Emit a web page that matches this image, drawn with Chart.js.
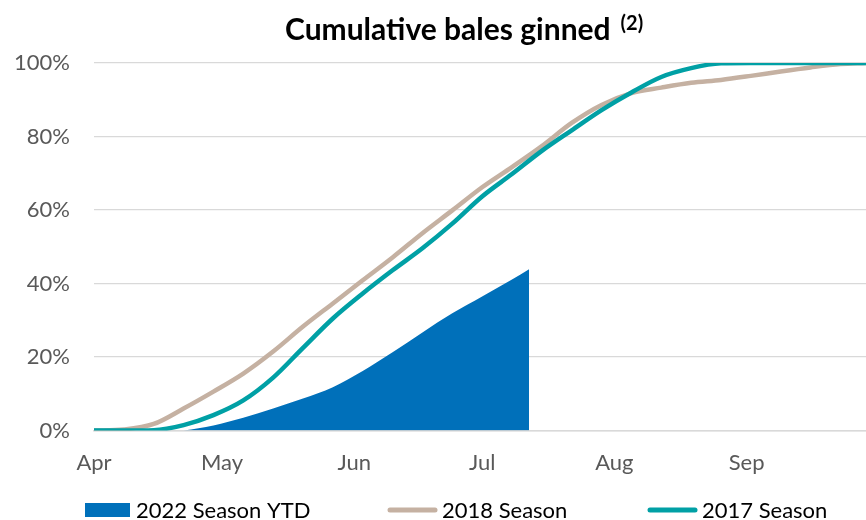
<!DOCTYPE html>
<html>
<head>
<meta charset="utf-8">
<script src="https://cdn.jsdelivr.net/npm/chart.js@4.4.0/dist/chart.umd.min.js"></script>
<style>
  html, body { margin: 0; padding: 0; background: #ffffff; }
  #wrap { width: 866px; height: 520px; position: relative; }
</style>
</head>
<body>
<div id="wrap"><canvas id="chart" width="866" height="520"></canvas></div>
<script>
// Season day index: 0 = 1 April
const monthStarts = [0, 30, 61, 91, 122, 153];
const monthLabels = ['Apr', 'May', 'Jun', 'Jul', 'Aug', 'Sep'];

// Weekly sample days for the full seasons
const seasonDays = [0, 7, 14, 21, 28, 35, 42, 49, 56, 63, 70, 77, 84, 91, 98,
                    105, 112, 119, 126, 133, 140, 147, 154, 161, 168, 175, 181];
// Share of bales ginned (%)
const season2018 = [0, 0.3, 1.8, 6.0, 10.6, 15.5, 21.5, 28.3, 34.6, 40.9, 47.1, 53.7, 59.9, 66.2, 71.7,
                    77.4, 83.7, 88.6, 91.8, 93.3, 94.6, 95.4, 96.5, 97.7, 98.8, 99.7, 100];
const season2017 = [0, 0, 0.1, 1.5, 4.2, 8.2, 14.4, 22.5, 30.5, 37.3, 43.6, 49.6, 56.3, 63.7, 69.8,
                    76.1, 81.7, 87.2, 92.0, 96.2, 98.6, 99.9, 100, 100, 100, 100, 100];

// Current season, year to date
const ytdDays = [21, 28, 35, 42, 49, 56, 63, 70, 77, 84, 91, 98, 102];
const season2022 = [0, 1.4, 3.5, 6.0, 8.7, 11.8, 16.2, 21.3, 26.7, 31.9, 36.5, 41.1, 43.9];

const yTicks = [0, 20, 40, 60, 80, 100];

const toPoints = (days, vals) => days.map((d, i) => ({ x: d, y: vals[i] }));

const FONT = 'Lato, "Open Sans", sans-serif';
const BLUE = '#0070BA';
const TAN = '#C5B1A2';
const TEAL = '#00A0A5';

// Title with superscript note marker
const titlePlugin = {
  id: 'noteTitle',
  afterDraw(chart) {
    const ctx = chart.ctx;
    const main = 'Cumulative bales ginned';
    const sup = '(2)';
    ctx.save();
    ctx.fillStyle = '#000';
    ctx.textBaseline = 'alphabetic';
    ctx.textAlign = 'left';
    ctx.font = 'bold 30px ' + FONT;
    ctx.fillText(main, 285, 40);
    const wMain = ctx.measureText(main).width;
    ctx.font = 'bold 20px ' + FONT;
    ctx.fillText(sup, 285 + wMain + 10, 30);
    ctx.restore();
  }
};

// Legend row under the axis: filled box for the area, line swatches for the seasons
const legendPlugin = {
  id: 'seasonLegend',
  afterDraw(chart) {
    const ctx = chart.ctx;
    const ds = chart.data.datasets;
    const items = [
      { i: 2, x: 85, w: 45, tx: 136 },
      { i: 1, x: 388, w: 49, tx: 442 },
      { i: 0, x: 648, w: 49, tx: 702 }
    ];
    const y = 510;
    ctx.save();
    ctx.font = '22px ' + FONT;
    ctx.textBaseline = 'middle';
    ctx.textAlign = 'left';
    items.forEach(it => {
      const d = ds[it.i];
      if (d.fill) {
        ctx.fillStyle = d.backgroundColor;
        ctx.fillRect(it.x, y - 7, it.w, 14);
      } else {
        ctx.strokeStyle = d.borderColor;
        ctx.lineWidth = 5;
        ctx.lineCap = 'round';
        ctx.beginPath();
        ctx.moveTo(it.x + 2, y);
        ctx.lineTo(it.x + it.w - 2, y);
        ctx.stroke();
      }
      ctx.fillStyle = '#000';
      ctx.fillText(d.label, it.tx, y + 1);
    });
    ctx.restore();
  }
};

new Chart(document.getElementById('chart'), {
  type: 'line',
  data: {
    datasets: [
      {
        label: '2017 Season',
        data: toPoints(seasonDays, season2017),
        borderColor: TEAL,
        backgroundColor: TEAL,
        borderWidth: 4.5,
        pointRadius: 0,
        cubicInterpolationMode: 'monotone',
        fill: false
      },
      {
        label: '2018 Season',
        data: toPoints(seasonDays, season2018),
        borderColor: TAN,
        backgroundColor: TAN,
        borderWidth: 4.5,
        pointRadius: 0,
        cubicInterpolationMode: 'monotone',
        fill: false
      },
      {
        label: '2022 Season YTD',
        data: toPoints(ytdDays, season2022),
        borderColor: BLUE,
        backgroundColor: BLUE,
        borderWidth: 0,
        pointRadius: 0,
        cubicInterpolationMode: 'monotone',
        fill: 'origin'
      }
    ]
  },
  options: {
    responsive: false,
    animation: false,
    layout: { padding: { top: 63, left: 0, right: 0, bottom: 25 } },
    plugins: {
      title: { display: false },
      tooltip: { enabled: false },
      legend: { display: false }
    },
    scales: {
      x: {
        type: 'linear',
        min: 0,
        max: 181,
        afterBuildTicks(axis) {
          axis.ticks = monthStarts.map(v => ({ value: v }));
        },
        ticks: {
          autoSkip: false,
          maxRotation: 0,
          padding: 19,
          color: '#595959',
          font: { family: FONT, size: 22 },
          callback(value) {
            const i = monthStarts.indexOf(value);
            return i >= 0 ? monthLabels[i] : '';
          }
        },
        grid: { display: false, drawTicks: false },
        border: { display: true, color: '#D9D9D9', width: 1.5 }
      },
      y: {
        min: 0,
        max: 100,
        afterBuildTicks(axis) {
          axis.ticks = yTicks.map(v => ({ value: v }));
        },
        afterFit(axis) { axis.width = 94; },
        ticks: {
          padding: 24,
          color: '#595959',
          font: { family: FONT, size: 22 },
          callback: v => v + '%'
        },
        grid: { color: '#D9D9D9', lineWidth: 1.2, drawTicks: false },
        border: { display: false }
      }
    }
  },
  plugins: [titlePlugin, legendPlugin]
});
</script>
</body>
</html>
